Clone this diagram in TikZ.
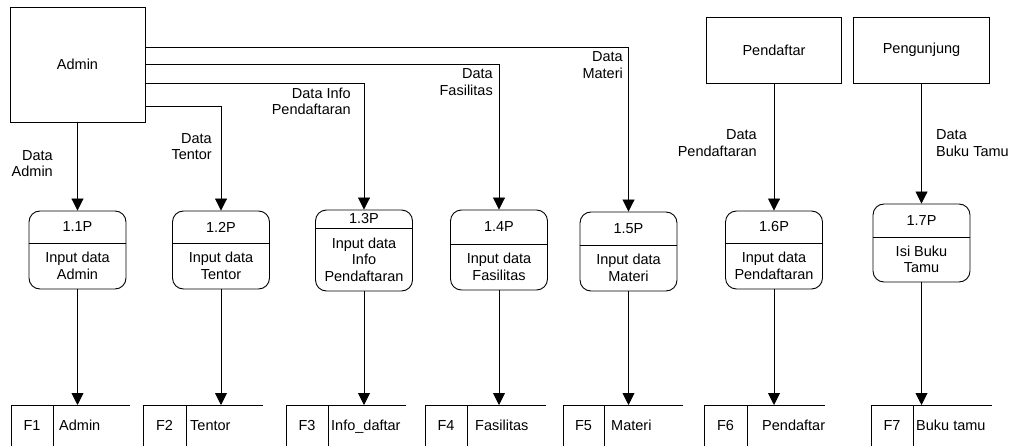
\documentclass[tikz,border=0pt]{standalone}
\usepackage{fontspec}
\setmainfont{Liberation Sans}
\usetikzlibrary{arrows.meta,calc}

% process: name, centre x, top, bottom, divider y, id, label
\newcommand{\dfdproc}[7]{%
  \node[procbox, minimum height={#4-#3}] (#1) at (#2,{(#3+#4)/2}) {};
  \draw[line] (#1.west |- 0,#5) -- (#1.east |- 0,#5);
  \node[txt] (#1id) at (#2,{(#3+#5)/2}) {#6};
  \node[txt, align=center] (#1lb) at (#2,{(#5+#4)/2}) {#7};
}
% data store: name, left x, divider x, right x, id, label, label x
\newcommand{\dfdstore}[7]{%
  \coordinate (#1) at (#2,405);
  \coordinate (#1div) at (#3,405);
  \coordinate (#1end) at (#4,405);
  \draw[line] (#1end) -- (#1) -- (#1 |- 0,446);
  \draw[line] (#1div) -- (#1div |- 0,446);
  \node[txt, anchor=base] (#1id) at ({(#2+#3)/2},430) {#5};
  \node[txt, anchor=base west] (#1lb) at (#7,430) {#6};
}

\begin{document}
\begin{tikzpicture}[x=1pt, y=-1pt,
  font=\fontsize{14.5}{16.5}\selectfont,
  line/.style={draw=black, line width=0.9pt},
  txt/.style={inner sep=0pt},
  ext/.style={line, rectangle, inner sep=0pt},
  procbox/.style={line, rectangle, rounded corners=11pt, minimum width=97pt, inner sep=0pt},
  flow/.style={line, -{Triangle[width=12pt,length=12pt]}},
  lbl/.style={txt, align=right, anchor=east},
  lbr/.style={txt, align=left, anchor=west}]

\useasboundingbox (0,0) rectangle (1014,446);

% external entities
\node[ext, minimum width=135pt, minimum height=115pt] (admin) at (77.5,64.5) {Admin};
\node[ext, minimum width=135pt, minimum height=66pt] (pendaftar) at (774,50) {Pendaftar};
\node[ext, minimum width=136pt, minimum height=66pt] (pengunjung) at (921.5,50) {Pengunjung};

% processes
\dfdproc{p1}{77.5}{211}{289}{243}{1.1P}{Input data\\Admin}
\dfdproc{p2}{221}{211}{289}{243}{1.2P}{Input data\\Tentor}
\dfdproc{p3}{364}{210}{291}{228}{1.3P}{Input data\\Info\\Pendaftaran}
\dfdproc{p4}{499}{210}{290}{244}{1.4P}{Input data\\Fasilitas}
\dfdproc{p5}{628.5}{212}{291}{245}{1.5P}{Input data\\Materi}
\dfdproc{p6}{774}{211}{289}{243}{1.6P}{Input data\\Pendaftaran}
\dfdproc{p7}{921.5}{204}{282}{237}{1.7P}{Isi Buku\\Tamu}

% data stores
\dfdstore{s1}{11}{53}{130}{F1}{Admin}{59}
\dfdstore{s2}{143}{186}{263}{F2}{Tentor}{190}
\dfdstore{s3}{286}{328}{406}{F3}{Info\_daftar}{331}
\dfdstore{s4}{425}{467}{546}{F4}{Fasilitas}{475}
\dfdstore{s5}{563}{604}{683}{F5}{Materi}{611}
\dfdstore{s6}{704}{747}{825}{F6}{Pendaftar}{762}
\dfdstore{s7}{871}{913}{992}{F7}{Buku tamu}{916}

% flows from the entities
\draw[flow] (admin.south) -- (p1.north);
\draw[flow] (admin.east |- 0,106) -| (p2.north);
\draw[flow] (admin.east |- 0,83) -| (p3.north);
\draw[flow] (admin.east |- 0,64) -| (p4.north);
\draw[flow] (admin.east |- 0,47) -| (p5.north);
\draw[flow] (pendaftar.south) -- (p6.north);
\draw[flow] (pengunjung.south) -- (p7.north);

% flows into the stores
\foreach \i in {1,...,7}{
  \draw[flow] (p\i.south) -- (p\i.south |- s\i);
}

% flow labels
\node[lbl] (fa) at (53,163.5) {Data\\Admin};
\node[lbl] (ft) at (212,146.5) {Data\\Tentor};
\node[lbl] (fi) at (351,101.5) {Data Info\\Pendaftaran};
\node[lbl] (ff) at (493,82) {Data\\Fasilitas};
\node[lbl] (fm) at (623,65) {Data\\Materi};
\node[lbl] (fp) at (757,143) {Data\\Pendaftaran};
\node[lbr] (fb) at (936,143) {Data\\Buku Tamu};
\end{tikzpicture}
\end{document}
